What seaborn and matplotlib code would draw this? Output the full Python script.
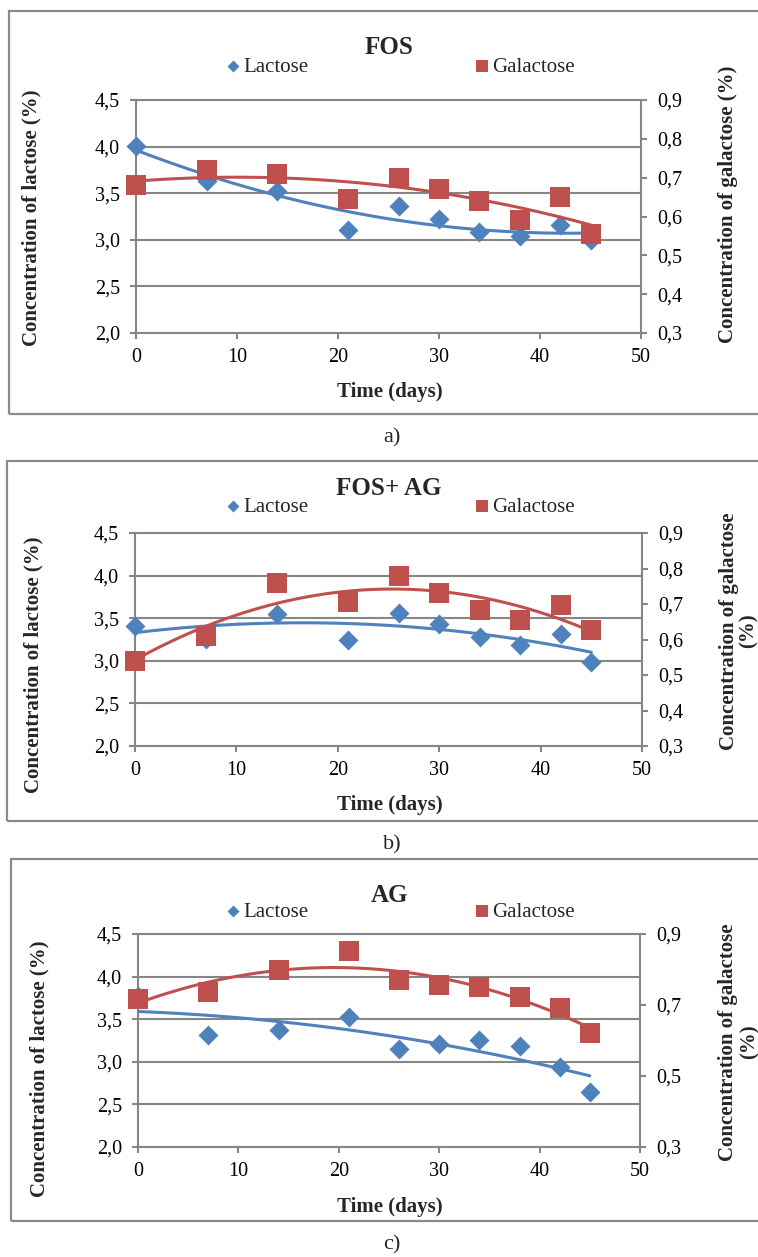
import matplotlib
matplotlib.use("Agg")
import matplotlib.pyplot as plt
from matplotlib.patches import Rectangle
import seaborn as sns

days = [0, 7, 14, 21, 26, 30, 34, 38, 42, 45]

lactose_fos = [4.01, 3.63, 3.52, 3.11, 3.36, 3.22, 3.08, 3.04, 3.16, 3.00]
galactose_fos = [0.68, 0.72, 0.71, 0.645, 0.70, 0.67, 0.64, 0.59, 0.65, 0.555]

lactose_fos_ag = [3.41, 3.26, 3.55, 3.24, 3.56, 3.43, 3.28, 3.19, 3.32, 2.99]
galactose_fos_ag = [0.54, 0.61, 0.76, 0.705, 0.78, 0.73, 0.683, 0.655, 0.697, 0.627]

lactose_ag = [3.77, 3.32, 3.37, 3.52, 3.15, 3.21, 3.26, 3.19, 2.94, 2.65]
galactose_ag = [0.717, 0.737, 0.80, 0.851, 0.77, 0.757, 0.75, 0.723, 0.692, 0.622]

titles = ["FOS", "FOS+ AG", "AG"]
captions = ["a)", "b)", "c)"]
day_ticks = [0, 10, 20, 30, 40, 50]
lactose_ticks = [2.0, 2.5, 3.0, 3.5, 4.0, 4.5]
galactose_ticks_fine = [0.3, 0.4, 0.5, 0.6, 0.7, 0.8, 0.9]
galactose_ticks_coarse = [0.3, 0.5, 0.7, 0.9]

W, H = 758, 1257
BLUE = "#4F81BD"
RED = "#C0504D"
GREY = "#868686"
SERIF = ["Liberation Serif", "DejaVu Serif"]

sns.set_theme(style="ticks")
plt.rcParams["font.family"] = SERIF

fig = plt.figure(figsize=(W / 100, H / 100), dpi=100)


def fx(x):
    return x / W


def fy(y):
    return 1 - y / H


def comma(v):
    return f"{v:.1f}".replace(".", ",")


# pixel layout of each panel (measured on the reference)
panels = [
    dict(axes=(136, 100, 641, 333), frame=(9, 11, 414), title_y=47, legend_y=67,
         xlabel_y=392, caption_y=438, left_lab=(31, 218),
         right_lab=(728, 204, "Concentration of galactose (%)", 1.0)),
    dict(axes=(135, 533, 642, 746), frame=(7, 461, 821), title_y=488, legend_y=507,
         xlabel_y=805, caption_y=845, left_lab=(33, 665),
         right_lab=(739, 631, "Concentration of galactose\n(%)", 0.95)),
    dict(axes=(138, 934, 640, 1147), frame=(11, 859, 1221), title_y=895, legend_y=912,
         xlabel_y=1207, caption_y=1245, left_lab=(39, 1069),
         right_lab=(739, 1042, "Concentration of galactose\n(%)", 1.1)),
]

data = [
    (lactose_fos, galactose_fos, galactose_ticks_fine),
    (lactose_fos_ag, galactose_fos_ag, galactose_ticks_fine),
    (lactose_ag, galactose_ag, galactose_ticks_coarse),
]

for i, (p, (lac, gal, gticks)) in enumerate(zip(panels, data)):
    fl, ft, fb = p["frame"]
    fig.patches.append(Rectangle((fx(fl), fy(fb)), fx(780 - fl), (fb - ft) / H,
                                 transform=fig.transFigure, fill=False,
                                 edgecolor="#8a8a8a", lw=1.6))

    l, t, r, b = p["axes"]
    ax = fig.add_axes([fx(l), fy(b), fx(r - l), (b - t) / H])
    ax2 = ax.twinx()

    sns.scatterplot(x=days, y=lac, ax=ax, marker="D", s=104, color=BLUE,
                    edgecolor=BLUE, linewidth=0, label="Lactose", legend=False,
                    clip_on=False, zorder=3)
    sns.regplot(x=days, y=lac, ax=ax, order=2, ci=None, scatter=False,
                line_kws=dict(color=BLUE, lw=2.2, zorder=4))

    sns.scatterplot(x=days, y=gal, ax=ax2, marker="s", s=207, color=RED,
                    edgecolor=RED, linewidth=0, label="Galactose", legend=False,
                    clip_on=False, zorder=3)
    sns.regplot(x=days, y=gal, ax=ax2, order=2, ci=None, scatter=False,
                line_kws=dict(color=RED, lw=2.2, zorder=4))

    ax.set_xlim(0, 50)
    ax.set_ylim(2.0, 4.5)
    ax2.set_ylim(0.3, 0.9)
    ax.set_xticks(day_ticks, labels=[str(d) for d in day_ticks])
    ax.set_yticks(lactose_ticks, labels=[comma(v) for v in lactose_ticks])
    ax2.set_yticks(gticks, labels=[comma(v) for v in gticks])
    ax.set_xlabel("")
    ax.set_ylabel("")
    ax2.set_ylabel("")

    ax.set_axisbelow(True)
    ax.yaxis.grid(True, color=GREY, lw=1.5)
    ax.xaxis.grid(False)
    for name, sp in ax.spines.items():
        sp.set_visible(name in ("left", "bottom", "top"))
        sp.set_color(GREY)
        sp.set_linewidth(1.5)
    for name, sp in ax2.spines.items():
        sp.set_visible(name == "right")
        sp.set_color(GREY)
        sp.set_linewidth(1.5)

    ax.tick_params(axis="both", direction="out", length=4.5, width=1.5,
                   color=GREY, labelsize=14.5, labelcolor="black")
    ax.tick_params(axis="y", left=True, pad=7)
    ax.tick_params(axis="x", bottom=True, pad=6)
    ax2.tick_params(axis="y", right=True, direction="out", length=4.5, width=1.5,
                    color=GREY, labelsize=14.5, labelcolor="black", pad=7)

    cx = (l + r) / 2
    fig.text(fx(cx), fy(p["title_y"]), titles[i], ha="center", va="center",
             fontsize=18, fontweight="bold")
    fig.text(fx(390), fy(p["xlabel_y"]), "Time (days)", ha="center", va="center",
             fontsize=15, fontweight="bold")
    fig.text(fx(392), fy(p["caption_y"]), captions[i], ha="center", va="center",
             fontsize=16)
    lx, ly = p["left_lab"]
    fig.text(fx(lx), fy(ly), "Concentration of lactose (%)", rotation=90,
             ha="center", va="center", fontsize=15, fontweight="bold")
    rx, ry, rtext, rls = p["right_lab"]
    fig.text(fx(rx), fy(ry), rtext, rotation=90, ha="center", va="center",
             multialignment="center", linespacing=rls, fontsize=15,
             fontweight="bold")

    h1, l1 = ax.get_legend_handles_labels()
    h2, l2 = ax2.get_legend_handles_labels()
    fig.legend(h1 + h2, l1 + l2, loc="center left",
               bbox_to_anchor=(fx(227), fy(p["legend_y"])), ncol=2, frameon=False,
               prop=dict(family=SERIF, size=15), handlelength=0.6,
               handletextpad=0.2, columnspacing=8.0, markerscale=0.6,
               borderpad=0, borderaxespad=0)

fig.savefig("out.png", dpi=100)
